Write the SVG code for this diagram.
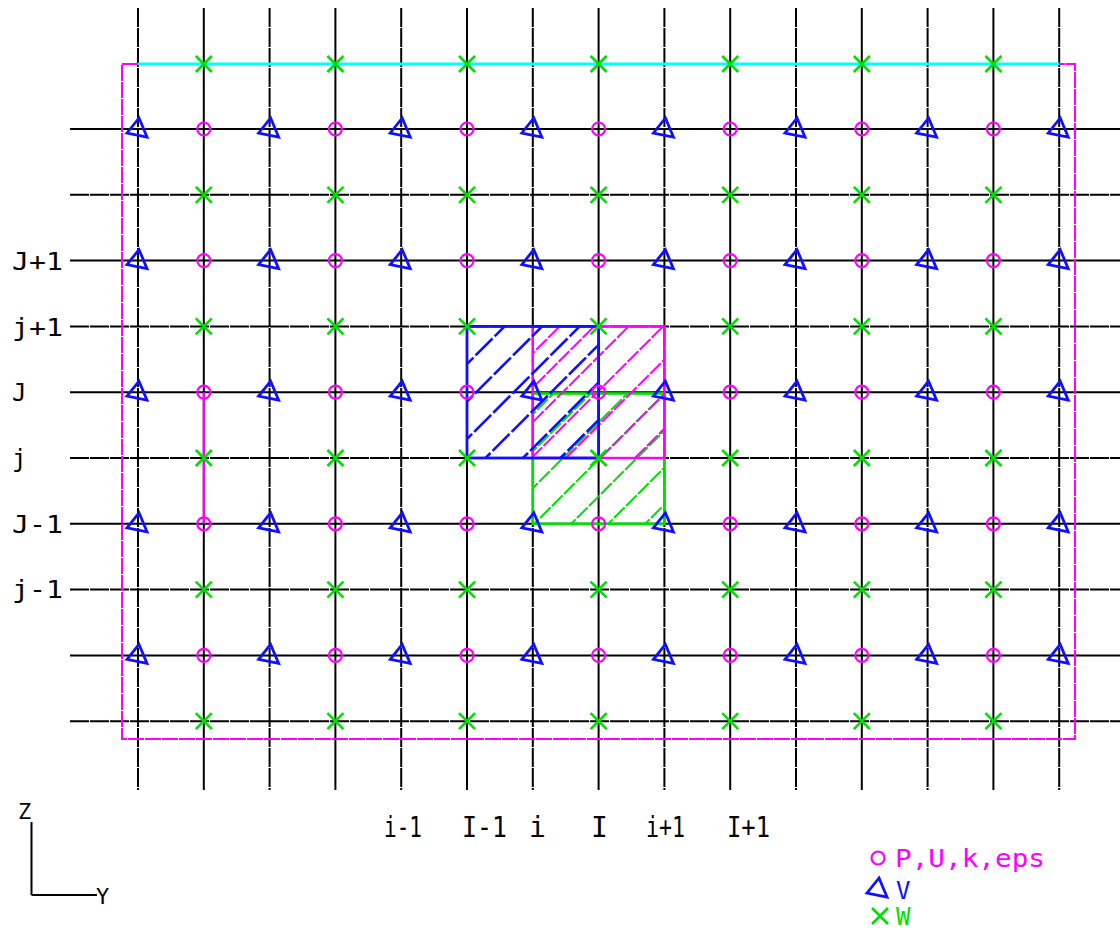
<svg xmlns="http://www.w3.org/2000/svg" xmlns:xlink="http://www.w3.org/1999/xlink" width="1120" height="930" viewBox="0 0 1120 930">
<style>
.gs{stroke:#000;stroke-width:2;fill:none}
.gd{stroke:#000;stroke-width:2;fill:none;stroke-dasharray:19,1}
.bnd{stroke:#ff00ff;stroke-width:2;fill:none;stroke-dasharray:16,1}
.lbl{font-family:"DejaVu Sans Mono","Liberation Mono",monospace;fill:#000}
.hb{stroke:#1010ff;stroke-width:2.6;stroke-dasharray:24,3;fill:none}
.hm{stroke:#ff00ff;stroke-width:2;stroke-dasharray:15,2;fill:none}
.hg{stroke:#00e000;stroke-width:2;stroke-dasharray:15,2;fill:none}
.circ{stroke:#ff00ff;stroke-width:2.2;fill:none}
.tri{stroke:#1010ff;stroke-width:2.8;fill:none;stroke-linejoin:miter}
.xw{stroke:#00e000;stroke-width:2.6;fill:none}
</style>
<defs>
<circle id="c" r="6.5" class="circ"/>
<path id="t" d="M1,-11 L-11,4 L9,8 Z" class="tri"/>
<path id="x" d="M-8,-8 L8,8 M-8,8 L8,-8" class="xw"/>
<clipPath id="cpB"><rect x="467" y="326.4" width="131.6" height="131.6"/></clipPath>
<clipPath id="cpM"><rect x="532.8" y="326.4" width="131.6" height="131.6"/></clipPath>
<clipPath id="cpG"><rect x="532.8" y="393.5" width="131.6" height="130.3"/></clipPath>
</defs>
<rect width="1120" height="930" fill="#fff"/>

<g id="grid">
<line class="gd" x1="138" y1="8" x2="138" y2="790"/>
<line class="gs" x1="203.8" y1="8" x2="203.8" y2="790"/>
<line class="gd" x1="269.6" y1="8" x2="269.6" y2="790"/>
<line class="gs" x1="335.4" y1="8" x2="335.4" y2="790"/>
<line class="gd" x1="401.2" y1="8" x2="401.2" y2="790"/>
<line class="gs" x1="467" y1="8" x2="467" y2="790"/>
<line class="gd" x1="532.8" y1="8" x2="532.8" y2="790"/>
<line class="gs" x1="598.6" y1="8" x2="598.6" y2="790"/>
<line class="gd" x1="664.4" y1="8" x2="664.4" y2="790"/>
<line class="gs" x1="730.2" y1="8" x2="730.2" y2="790"/>
<line class="gd" x1="796" y1="8" x2="796" y2="790"/>
<line class="gs" x1="861.8" y1="8" x2="861.8" y2="790"/>
<line class="gd" x1="927.6" y1="8" x2="927.6" y2="790"/>
<line class="gs" x1="993.4" y1="8" x2="993.4" y2="790"/>
<line class="gd" x1="1059.2" y1="8" x2="1059.2" y2="790"/>
<line class="gs" x1="70" y1="129" x2="1120" y2="129"/>
<line class="gd" x1="70" y1="194.8" x2="1120" y2="194.8"/>
<line class="gs" x1="70" y1="260.6" x2="1120" y2="260.6"/>
<line class="gd" x1="70" y1="326.4" x2="1120" y2="326.4"/>
<line class="gs" x1="70" y1="392.2" x2="1120" y2="392.2"/>
<line class="gd" x1="70" y1="458" x2="1120" y2="458"/>
<line class="gs" x1="70" y1="523.8" x2="1120" y2="523.8"/>
<line class="gd" x1="70" y1="589.6" x2="1120" y2="589.6"/>
<line class="gs" x1="70" y1="655.4" x2="1120" y2="655.4"/>
<line class="gd" x1="70" y1="721.2" x2="1120" y2="721.2"/>
</g>

<g id="boundary">
<path class="bnd" d="M138,64 L122,64 L122,739 L1075,739 L1075,64 L1059.2,64"/>
<line x1="138" y1="64" x2="1059.2" y2="64" stroke="#00ffff" stroke-width="3"/>
<line x1="203.8" y1="392.2" x2="203.8" y2="523.8" stroke="#ff00ff" stroke-width="2.2"/>
</g>

<g id="cell-w">
<g clip-path="url(#cpG)">
<line class="hg" x1="417" y1="530" x2="562" y2="385"/>
<line class="hg" x1="454" y1="530" x2="599" y2="385"/>
<line class="hg" x1="491" y1="530" x2="636" y2="385"/>
<line class="hg" x1="528" y1="530" x2="673" y2="385"/>
<line class="hg" x1="565" y1="530" x2="710" y2="385"/>
<line class="hg" x1="602" y1="530" x2="747" y2="385"/>
<line class="hg" x1="639" y1="530" x2="784" y2="385"/>
</g>
<rect x="532.8" y="393.5" width="131.6" height="130.3" stroke="#00e000" stroke-width="2.6" fill="none"/>
</g>

<g id="cell-p">
<g clip-path="url(#cpM)">
<line class="hm" x1="416" y1="470" x2="566" y2="320"/>
<line class="hm" x1="450.5" y1="470" x2="600.5" y2="320"/>
<line class="hm" x1="485" y1="470" x2="635" y2="320"/>
<line class="hm" x1="519.5" y1="470" x2="669.5" y2="320"/>
<line class="hm" x1="554" y1="470" x2="704" y2="320"/>
<line class="hm" x1="588.5" y1="470" x2="738.5" y2="320"/>
<line class="hm" x1="623" y1="470" x2="773" y2="320"/>
</g>
<rect x="532.8" y="326.4" width="131.6" height="131.6" stroke="#ff00ff" stroke-width="2.4" fill="none"/>
</g>

<g id="cell-v">
<g clip-path="url(#cpB)">
<line class="hb" x1="361" y1="470" x2="511" y2="320"/>
<line class="hb" x1="398.5" y1="470" x2="548.5" y2="320"/>
<line class="hb" x1="436" y1="470" x2="586" y2="320"/>
<line class="hb" x1="473.5" y1="470" x2="623.5" y2="320"/>
<line class="hb" x1="511" y1="470" x2="661" y2="320"/>
<line class="hb" x1="548.5" y1="470" x2="698.5" y2="320"/>
</g>
<rect x="467" y="326.4" width="131.6" height="131.6" stroke="#1010ff" stroke-width="2.8" fill="none"/>
</g>

<g id="nodes-p">
<use xlink:href="#c" x="203.8" y="129"/><use xlink:href="#c" x="335.4" y="129"/><use xlink:href="#c" x="467" y="129"/><use xlink:href="#c" x="598.6" y="129"/><use xlink:href="#c" x="730.2" y="129"/><use xlink:href="#c" x="861.8" y="129"/><use xlink:href="#c" x="993.4" y="129"/>
<use xlink:href="#c" x="203.8" y="260.6"/><use xlink:href="#c" x="335.4" y="260.6"/><use xlink:href="#c" x="467" y="260.6"/><use xlink:href="#c" x="598.6" y="260.6"/><use xlink:href="#c" x="730.2" y="260.6"/><use xlink:href="#c" x="861.8" y="260.6"/><use xlink:href="#c" x="993.4" y="260.6"/>
<use xlink:href="#c" x="203.8" y="392.2"/><use xlink:href="#c" x="335.4" y="392.2"/><use xlink:href="#c" x="467" y="392.2"/><use xlink:href="#c" x="598.6" y="392.2"/><use xlink:href="#c" x="730.2" y="392.2"/><use xlink:href="#c" x="861.8" y="392.2"/><use xlink:href="#c" x="993.4" y="392.2"/>
<use xlink:href="#c" x="203.8" y="523.8"/><use xlink:href="#c" x="335.4" y="523.8"/><use xlink:href="#c" x="467" y="523.8"/><use xlink:href="#c" x="598.6" y="523.8"/><use xlink:href="#c" x="730.2" y="523.8"/><use xlink:href="#c" x="861.8" y="523.8"/><use xlink:href="#c" x="993.4" y="523.8"/>
<use xlink:href="#c" x="203.8" y="655.4"/><use xlink:href="#c" x="335.4" y="655.4"/><use xlink:href="#c" x="467" y="655.4"/><use xlink:href="#c" x="598.6" y="655.4"/><use xlink:href="#c" x="730.2" y="655.4"/><use xlink:href="#c" x="861.8" y="655.4"/><use xlink:href="#c" x="993.4" y="655.4"/>
</g>

<g id="nodes-v">
<use xlink:href="#t" x="138" y="129"/><use xlink:href="#t" x="269.6" y="129"/><use xlink:href="#t" x="401.2" y="129"/><use xlink:href="#t" x="532.8" y="129"/><use xlink:href="#t" x="664.4" y="129"/><use xlink:href="#t" x="796" y="129"/><use xlink:href="#t" x="927.6" y="129"/><use xlink:href="#t" x="1059.2" y="129"/>
<use xlink:href="#t" x="138" y="260.6"/><use xlink:href="#t" x="269.6" y="260.6"/><use xlink:href="#t" x="401.2" y="260.6"/><use xlink:href="#t" x="532.8" y="260.6"/><use xlink:href="#t" x="664.4" y="260.6"/><use xlink:href="#t" x="796" y="260.6"/><use xlink:href="#t" x="927.6" y="260.6"/><use xlink:href="#t" x="1059.2" y="260.6"/>
<use xlink:href="#t" x="138" y="392.2"/><use xlink:href="#t" x="269.6" y="392.2"/><use xlink:href="#t" x="401.2" y="392.2"/><use xlink:href="#t" x="532.8" y="392.2"/><use xlink:href="#t" x="664.4" y="392.2"/><use xlink:href="#t" x="796" y="392.2"/><use xlink:href="#t" x="927.6" y="392.2"/><use xlink:href="#t" x="1059.2" y="392.2"/>
<use xlink:href="#t" x="138" y="523.8"/><use xlink:href="#t" x="269.6" y="523.8"/><use xlink:href="#t" x="401.2" y="523.8"/><use xlink:href="#t" x="532.8" y="523.8"/><use xlink:href="#t" x="664.4" y="523.8"/><use xlink:href="#t" x="796" y="523.8"/><use xlink:href="#t" x="927.6" y="523.8"/><use xlink:href="#t" x="1059.2" y="523.8"/>
<use xlink:href="#t" x="138" y="655.4"/><use xlink:href="#t" x="269.6" y="655.4"/><use xlink:href="#t" x="401.2" y="655.4"/><use xlink:href="#t" x="532.8" y="655.4"/><use xlink:href="#t" x="664.4" y="655.4"/><use xlink:href="#t" x="796" y="655.4"/><use xlink:href="#t" x="927.6" y="655.4"/><use xlink:href="#t" x="1059.2" y="655.4"/>
</g>

<g id="nodes-w">
<use xlink:href="#x" x="203.8" y="64"/><use xlink:href="#x" x="335.4" y="64"/><use xlink:href="#x" x="467" y="64"/><use xlink:href="#x" x="598.6" y="64"/><use xlink:href="#x" x="730.2" y="64"/><use xlink:href="#x" x="861.8" y="64"/><use xlink:href="#x" x="993.4" y="64"/>
<use xlink:href="#x" x="203.8" y="194.8"/><use xlink:href="#x" x="335.4" y="194.8"/><use xlink:href="#x" x="467" y="194.8"/><use xlink:href="#x" x="598.6" y="194.8"/><use xlink:href="#x" x="730.2" y="194.8"/><use xlink:href="#x" x="861.8" y="194.8"/><use xlink:href="#x" x="993.4" y="194.8"/>
<use xlink:href="#x" x="203.8" y="326.4"/><use xlink:href="#x" x="335.4" y="326.4"/><use xlink:href="#x" x="467" y="326.4"/><use xlink:href="#x" x="598.6" y="326.4"/><use xlink:href="#x" x="730.2" y="326.4"/><use xlink:href="#x" x="861.8" y="326.4"/><use xlink:href="#x" x="993.4" y="326.4"/>
<use xlink:href="#x" x="203.8" y="458"/><use xlink:href="#x" x="335.4" y="458"/><use xlink:href="#x" x="467" y="458"/><use xlink:href="#x" x="598.6" y="458"/><use xlink:href="#x" x="730.2" y="458"/><use xlink:href="#x" x="861.8" y="458"/><use xlink:href="#x" x="993.4" y="458"/>
<use xlink:href="#x" x="203.8" y="589.6"/><use xlink:href="#x" x="335.4" y="589.6"/><use xlink:href="#x" x="467" y="589.6"/><use xlink:href="#x" x="598.6" y="589.6"/><use xlink:href="#x" x="730.2" y="589.6"/><use xlink:href="#x" x="861.8" y="589.6"/><use xlink:href="#x" x="993.4" y="589.6"/>
<use xlink:href="#x" x="203.8" y="721.2"/><use xlink:href="#x" x="335.4" y="721.2"/><use xlink:href="#x" x="467" y="721.2"/><use xlink:href="#x" x="598.6" y="721.2"/><use xlink:href="#x" x="730.2" y="721.2"/><use xlink:href="#x" x="861.8" y="721.2"/><use xlink:href="#x" x="993.4" y="721.2"/>
</g>

<g id="row-labels" class="lbl" font-size="24">
<text x="12" y="270" textLength="51" lengthAdjust="spacingAndGlyphs">J+1</text>
<text x="12" y="336" textLength="51" lengthAdjust="spacingAndGlyphs">j+1</text>
<text x="12" y="401">J</text>
<text x="12" y="467">j</text>
<text x="12" y="533" textLength="51" lengthAdjust="spacingAndGlyphs">J-1</text>
<text x="12" y="598" textLength="51" lengthAdjust="spacingAndGlyphs">j-1</text>
</g>

<g id="col-labels" class="lbl" font-size="28">
<text x="384" y="837" textLength="38" lengthAdjust="spacingAndGlyphs">i-1</text>
<text x="462" y="837" textLength="45" lengthAdjust="spacingAndGlyphs">I-1</text>
<text x="529" y="837">i</text>
<text x="591" y="837">I</text>
<text x="646" y="837" textLength="39" lengthAdjust="spacingAndGlyphs">i+1</text>
<text x="727" y="837" textLength="43" lengthAdjust="spacingAndGlyphs">I+1</text>
</g>

<g id="axes">
<line x1="31.5" y1="822" x2="31.5" y2="895" stroke="#000" stroke-width="2"/>
<line x1="31.5" y1="895" x2="97" y2="895" stroke="#000" stroke-width="2"/>
<text class="lbl" x="18" y="819" font-size="22">Z</text>
<text class="lbl" x="96" y="904" font-size="22">Y</text>
</g>

<g id="legend">
<use xlink:href="#c" x="878" y="858"/>
<text x="895" y="867" font-family="DejaVu Sans Mono, Liberation Mono, monospace" font-size="24" fill="#ff00ff" textLength="150" lengthAdjust="spacingAndGlyphs">P,U,k,eps</text>
<use xlink:href="#t" x="878" y="889"/>
<text x="896" y="899" font-family="DejaVu Sans Mono, Liberation Mono, monospace" font-size="24" fill="#1010ff">V</text>
<use xlink:href="#x" x="880" y="916"/>
<text x="896" y="925" font-family="DejaVu Sans Mono, Liberation Mono, monospace" font-size="24" fill="#00e000">W</text>
</g>
</svg>
